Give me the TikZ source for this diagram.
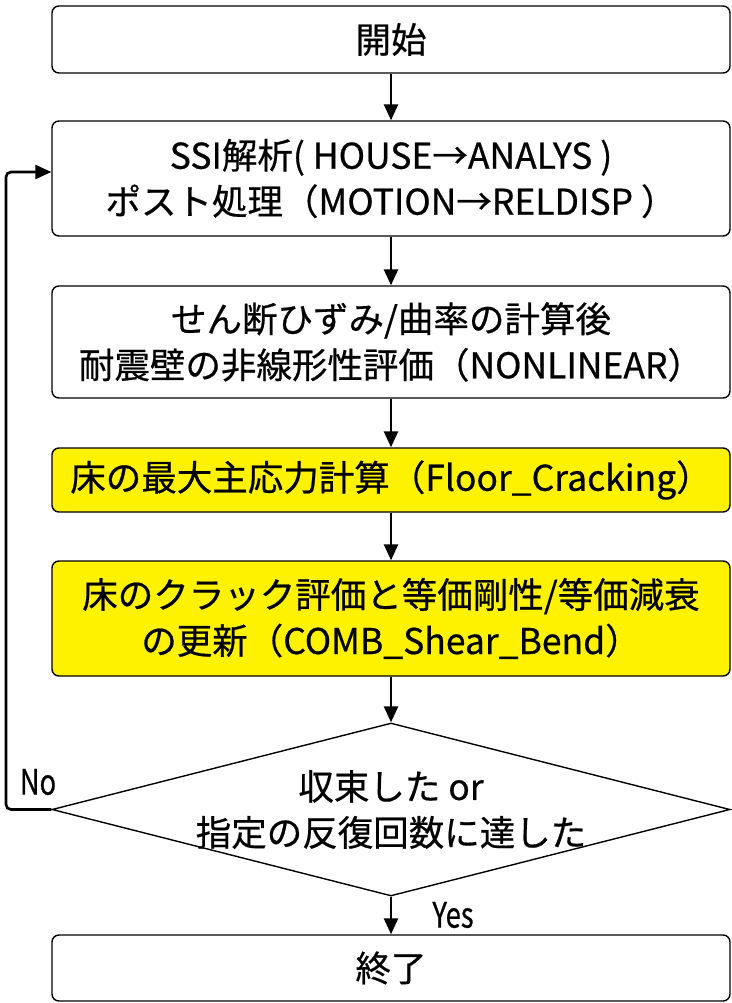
\documentclass[tikz,border=0pt]{standalone}
\usepackage{fontspec}
\newfontfamily\cjk[FakeBold=0.6]{Noto Sans CJK JP}
\newfontfamily\cjkn[FakeStretch=0.78,FakeBold=0.6]{Noto Sans CJK JP}
\usetikzlibrary{shapes.geometric,arrows.meta}
\begin{document}
\begin{tikzpicture}[x=1pt,y=-1pt,
  stepbox/.style={draw=black, line width=1.4pt, rounded corners=7pt, minimum width=678pt, inner sep=0pt, align=center, font=\cjk\fontsize{35.5}{46}\selectfont},
  hl/.style={fill=yellow},
  lbl/.style={font=\cjkn\fontsize{35}{40}\selectfont, inner sep=0pt},
  arr/.style={line width=2.6pt, -{Triangle[length=16pt,width=14pt]}}]
\useasboundingbox (0,0) rectangle (731,1003);
\node[stepbox, minimum height=67pt] (start) at (391,39.5) {開始};
\node[stepbox, minimum height=115pt] (ssi) at (391,178.5) {SSI解析( HOUSE→ANALYS )\\ポスト処理（MOTION→RELDISP ）};
\node[stepbox, minimum height=112pt] (nl) at (391,342) {せん断ひずみ/曲率の計算後\\耐震壁の非線形性評価（NONLINEAR）};
\node[stepbox, hl, minimum height=64pt] (fc) at (391,480) {床の最大主応力計算（Floor\_Cracking）};
\node[stepbox, hl, minimum height=115pt] (comb) at (391,618.5) {床のクラック評価と等価剛性/等価減衰\\の更新（COMB\_Shear\_Bend）};
\node[diamond, draw=black, line width=1.4pt, minimum width=678pt, minimum height=173pt, inner sep=0pt] (dec) at (391,809.5) {};
\node[align=center, font=\cjk\fontsize{35.5}{46}\selectfont, inner sep=0pt] (dectext) at (dec.center) {収束した or\\指定の反復回数に達した};
\node[stepbox, minimum height=66pt] (end) at (391,968) {終了};
\draw[arr] (start) -- (ssi);
\draw[arr] (ssi) -- (nl);
\draw[arr] (nl) -- (fc);
\draw[arr] (fc) -- (comb);
\draw[arr] (comb) -- (dec);
\draw[arr] (dec) -- (end);
\coordinate (lb) at (6,809.5);
\coordinate (lt) at (6,172);
\draw[arr, rounded corners=5pt] (dec.west) -- (lb) -- (lt) -- (ssi.west |- lt);
\node[lbl] (no) at (38,782) {No};
\node[lbl] (yes) at (453,915) {Yes};
\end{tikzpicture}
\end{document}
